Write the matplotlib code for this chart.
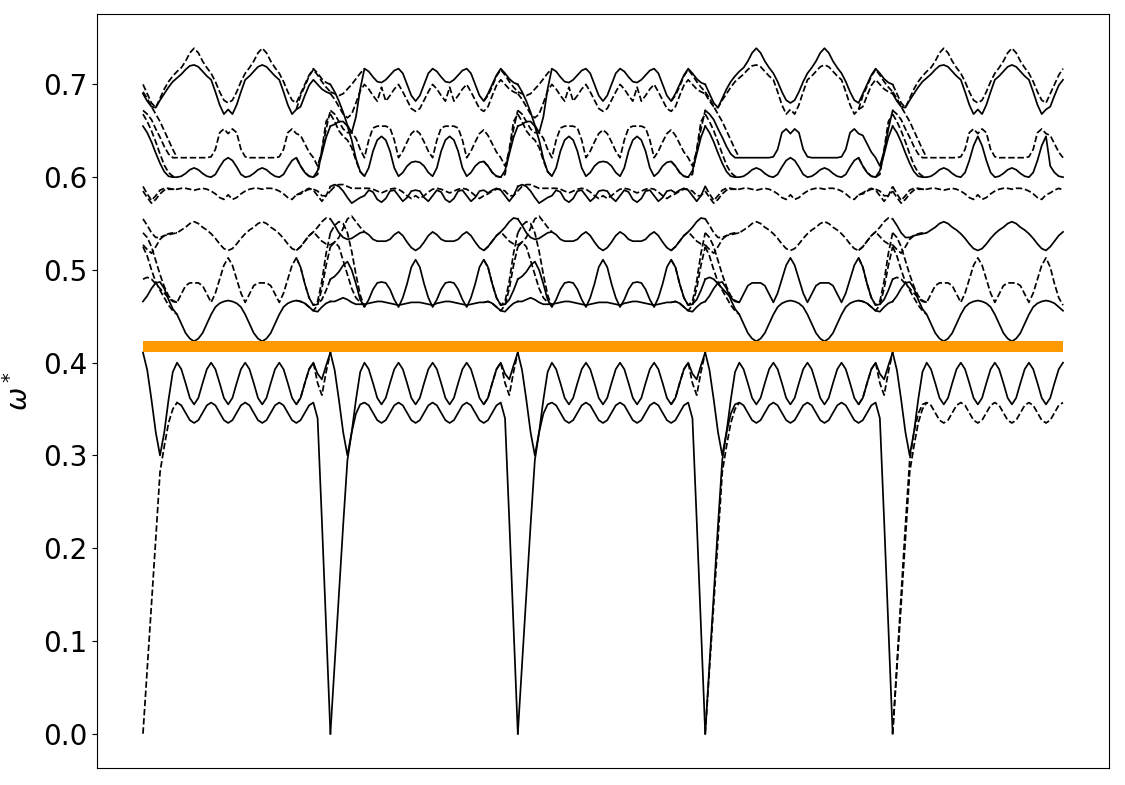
import matplotlib
matplotlib.use("Agg")
import matplotlib.pyplot as plt
import numpy as np

STEPS = 44       # grid steps between two Gamma points
LAST_STEP = 40   # the last segment stops before the next Gamma point

# band values
# heads: steps 0-7 after a Gamma point, bodies: steps 8-36, tails: steps 37-44

# --- lower two bands (same in every segment) ---
W40 = [0.400, 0.393, 0.378, 0.362, 0.355, 0.362, 0.378, 0.393,
       0.400, 0.393, 0.378, 0.362, 0.355, 0.362, 0.378, 0.393,
       0.400, 0.393, 0.378, 0.362, 0.355, 0.362, 0.378, 0.393,
       0.400, 0.393, 0.378, 0.362, 0.355]
W35 = [0.357, 0.354, 0.346, 0.338, 0.335, 0.338, 0.346, 0.354,
       0.357, 0.354, 0.346, 0.338, 0.335, 0.338, 0.346, 0.354,
       0.357, 0.354, 0.346, 0.338, 0.335, 0.338, 0.346, 0.354,
       0.357, 0.354, 0.346, 0.338, 0.335]
hW40 = [0.411, 0.392, 0.360, 0.325, 0.300, 0.325, 0.360, 0.390]
hW35 = [0.000, 0.075, 0.150, 0.225, 0.295, 0.325, 0.345, 0.355]
hW35d = [0.000, 0.070, 0.140, 0.210, 0.282, 0.310, 0.335, 0.350]
tW40 = [0.362, 0.378, 0.393, 0.400, 0.388, 0.382, 0.397, 0.411]
tW40d = [0.362, 0.378, 0.393, 0.400, 0.378, 0.365, 0.390, 0.411]
tW35 = [0.338, 0.346, 0.354, 0.357, 0.340, 0.230, 0.115, 0.000]

# --- segment type A bodies ---
A_top_hi = [0.714, 0.718, 0.725, 0.734, 0.739, 0.734, 0.725, 0.718,
            0.712, 0.703, 0.692, 0.683, 0.680, 0.683, 0.692, 0.703,
            0.712, 0.718, 0.725, 0.734, 0.739, 0.734, 0.725, 0.718,
            0.712, 0.703, 0.692, 0.683, 0.680]
A_top_lo = [0.707, 0.711, 0.716, 0.720, 0.721, 0.719, 0.714, 0.709,
            0.705, 0.692, 0.678, 0.668, 0.673, 0.668, 0.678, 0.692,
            0.705, 0.709, 0.714, 0.719, 0.721, 0.719, 0.714, 0.709,
            0.705, 0.692, 0.678, 0.668, 0.673]
A_bump = [0.621, 0.621, 0.621, 0.621, 0.621, 0.621, 0.621, 0.621,
          0.622, 0.630, 0.648, 0.652, 0.647, 0.652, 0.648, 0.630,
          0.622, 0.621, 0.621, 0.621, 0.621, 0.621, 0.621, 0.621,
          0.622, 0.630, 0.648, 0.652, 0.647]
A_base = [0.600, 0.601, 0.604, 0.608, 0.610, 0.608, 0.604, 0.601,
          0.600, 0.603, 0.611, 0.618, 0.621, 0.618, 0.611, 0.603,
          0.600, 0.601, 0.604, 0.608, 0.610, 0.608, 0.604, 0.601,
          0.600, 0.603, 0.611, 0.618, 0.621]
A_base_hi = [0.600, 0.601, 0.604, 0.608, 0.610, 0.608, 0.604, 0.601,
             0.600, 0.605, 0.618, 0.634, 0.644, 0.634, 0.618, 0.605,
             0.600, 0.601, 0.604, 0.608, 0.610, 0.608, 0.604, 0.601,
             0.600, 0.605, 0.618, 0.634, 0.644]
A_wig = [0.587, 0.588, 0.588, 0.587, 0.586, 0.587, 0.588, 0.587,
         0.585, 0.582, 0.578, 0.576, 0.581, 0.576, 0.578, 0.582,
         0.585, 0.587, 0.588, 0.588, 0.587, 0.588, 0.588, 0.587,
         0.585, 0.582, 0.578, 0.576, 0.581]
A_545 = [0.540, 0.543, 0.546, 0.550, 0.552, 0.550, 0.546, 0.543,
         0.539, 0.534, 0.528, 0.523, 0.521, 0.523, 0.528, 0.534,
         0.539, 0.543, 0.546, 0.550, 0.552, 0.550, 0.546, 0.543,
         0.539, 0.534, 0.528, 0.523, 0.521]
A_51 = [0.465, 0.474, 0.483, 0.486, 0.486, 0.486, 0.483, 0.474,
        0.465, 0.475, 0.490, 0.505, 0.513, 0.505, 0.490, 0.475,
        0.465, 0.474, 0.483, 0.486, 0.486, 0.486, 0.483, 0.474,
        0.465, 0.475, 0.490, 0.505, 0.513]
A_arch = [0.452, 0.442, 0.432, 0.426, 0.423, 0.426, 0.432, 0.442,
          0.452, 0.460, 0.464, 0.466, 0.467, 0.466, 0.464, 0.460,
          0.452, 0.442, 0.432, 0.426, 0.423, 0.426, 0.432, 0.442,
          0.452, 0.460, 0.464, 0.466, 0.467]

# --- segment type B bodies ---
B_top = [0.717, 0.714, 0.708, 0.703, 0.702, 0.705, 0.710, 0.715,
         0.717, 0.712, 0.700, 0.688, 0.682, 0.688, 0.700, 0.712,
         0.717, 0.714, 0.708, 0.703, 0.702, 0.705, 0.710, 0.715,
         0.717, 0.712, 0.700, 0.688, 0.682]
B_2 = [0.700, 0.695, 0.688, 0.682, 0.697, 0.682, 0.688, 0.695,
       0.700, 0.692, 0.683, 0.674, 0.671, 0.674, 0.683, 0.692,
       0.700, 0.695, 0.688, 0.682, 0.697, 0.682, 0.688, 0.695,
       0.700, 0.692, 0.683, 0.674, 0.671]
B_3 = [0.621, 0.640, 0.653, 0.655, 0.655, 0.655, 0.653, 0.640,
       0.621, 0.628, 0.638, 0.647, 0.651, 0.647, 0.638, 0.628,
       0.621, 0.640, 0.653, 0.655, 0.655, 0.655, 0.653, 0.640,
       0.621, 0.628, 0.638, 0.647, 0.651]
B_4 = [0.601, 0.610, 0.628, 0.640, 0.644, 0.640, 0.628, 0.610,
       0.601, 0.605, 0.612, 0.616, 0.617, 0.616, 0.612, 0.605,
       0.601, 0.610, 0.628, 0.640, 0.644, 0.640, 0.628, 0.610,
       0.601, 0.605, 0.612, 0.616, 0.617]
B_5a = [0.580, 0.586, 0.584, 0.576, 0.573, 0.577, 0.585, 0.586,
        0.580, 0.574, 0.578, 0.585, 0.586, 0.585, 0.578, 0.574,
        0.580, 0.586, 0.584, 0.576, 0.573, 0.577, 0.585, 0.586,
        0.580, 0.574, 0.578, 0.585, 0.586]
B_5b = [0.588, 0.588, 0.587, 0.585, 0.583, 0.585, 0.587, 0.588,
        0.587, 0.584, 0.580, 0.577, 0.580, 0.577, 0.580, 0.584,
        0.587, 0.588, 0.587, 0.585, 0.583, 0.585, 0.587, 0.588,
        0.587, 0.584, 0.580, 0.577, 0.580]
B_6 = [0.541, 0.538, 0.533, 0.531, 0.531, 0.531, 0.533, 0.538,
       0.541, 0.537, 0.530, 0.524, 0.521, 0.524, 0.530, 0.537,
       0.541, 0.538, 0.533, 0.531, 0.531, 0.531, 0.533, 0.538,
       0.541, 0.537, 0.530, 0.524, 0.521]
B_7 = [0.460, 0.468, 0.479, 0.486, 0.487, 0.486, 0.479, 0.468,
       0.460, 0.470, 0.485, 0.503, 0.511, 0.503, 0.485, 0.470,
       0.460, 0.468, 0.479, 0.486, 0.487, 0.486, 0.479, 0.468,
       0.460, 0.470, 0.485, 0.503, 0.511]
B_8 = [0.463, 0.464, 0.465, 0.466, 0.466, 0.465, 0.464, 0.463,
       0.462, 0.463, 0.464, 0.465, 0.465, 0.465, 0.464, 0.463,
       0.462, 0.464, 0.465, 0.466, 0.466, 0.465, 0.464, 0.463,
       0.462, 0.463, 0.464, 0.465, 0.465]

# --- tails, shared by both segment types (approach to the next Gamma) ---
t10 = [0.690, 0.700, 0.710, 0.717, 0.712, 0.706, 0.702, 0.700]
t10d = [0.688, 0.698, 0.709, 0.716, 0.710, 0.703, 0.697, 0.692]
t9 = [0.676, 0.688, 0.699, 0.705, 0.700, 0.695, 0.692, 0.690]
t8 = [0.645, 0.636, 0.627, 0.621, 0.612, 0.628, 0.652, 0.672]
t7 = [0.612, 0.605, 0.601, 0.600, 0.607, 0.625, 0.643, 0.655]
t7d = [0.612, 0.605, 0.601, 0.600, 0.603, 0.630, 0.660, 0.668]
t6 = [0.583, 0.586, 0.588, 0.586, 0.580, 0.574, 0.580, 0.590]
t5 = [0.582, 0.585, 0.587, 0.587, 0.585, 0.580, 0.580, 0.585]
t4 = [0.525, 0.531, 0.537, 0.541, 0.546, 0.552, 0.556, 0.555]
t4d = [0.525, 0.531, 0.537, 0.541, 0.536, 0.531, 0.528, 0.527]
t3 = [0.503, 0.485, 0.470, 0.462, 0.463, 0.468, 0.478, 0.490]
t3d = [0.503, 0.485, 0.470, 0.462, 0.466, 0.488, 0.518, 0.540]
t2 = [0.466, 0.464, 0.460, 0.456, 0.455, 0.460, 0.464, 0.466]
t2d = [0.466, 0.464, 0.460, 0.456, 0.462, 0.480, 0.505, 0.525]

# --- heads after a Gamma point, type A ---
hA10 = [0.700, 0.690, 0.680, 0.675, 0.685, 0.695, 0.703, 0.709]
hA10d = [0.692, 0.685, 0.676, 0.668, 0.660, 0.650, 0.640, 0.630]
hA9 = [0.690, 0.682, 0.676, 0.675, 0.683, 0.690, 0.697, 0.703]
hA8 = [0.672, 0.668, 0.662, 0.652, 0.643, 0.633, 0.625, 0.621]
hA7 = [0.655, 0.648, 0.638, 0.626, 0.615, 0.606, 0.601, 0.600]
hA7d = [0.668, 0.660, 0.650, 0.638, 0.625, 0.613, 0.605, 0.601]
hA6 = [0.590, 0.582, 0.575, 0.580, 0.586, 0.588, 0.588, 0.587]
hA5 = [0.585, 0.578, 0.572, 0.576, 0.582, 0.586, 0.587, 0.587]
hA4 = [0.555, 0.548, 0.540, 0.535, 0.535, 0.537, 0.538, 0.539]
hA4d = [0.527, 0.522, 0.518, 0.525, 0.533, 0.537, 0.539, 0.540]
hA3 = [0.490, 0.492, 0.490, 0.485, 0.480, 0.475, 0.470, 0.466]
hA3d = [0.540, 0.535, 0.525, 0.510, 0.495, 0.482, 0.472, 0.467]
hA2 = [0.466, 0.472, 0.480, 0.486, 0.487, 0.480, 0.468, 0.458]
hA2d = [0.525, 0.515, 0.500, 0.487, 0.478, 0.470, 0.462, 0.456]

# --- heads after a Gamma point, type B ---
hB10 = [0.700, 0.692, 0.682, 0.670, 0.656, 0.648, 0.665, 0.695]
hB10d = [0.692, 0.690, 0.688, 0.690, 0.695, 0.700, 0.706, 0.712]
hB9 = [0.690, 0.684, 0.676, 0.668, 0.664, 0.668, 0.680, 0.693]
hB8 = [0.672, 0.668, 0.660, 0.652, 0.648, 0.648, 0.642, 0.630]
hB7 = [0.655, 0.657, 0.660, 0.660, 0.655, 0.640, 0.620, 0.606]
hB7d = [0.668, 0.660, 0.650, 0.644, 0.640, 0.632, 0.618, 0.606]
hB6 = [0.590, 0.592, 0.590, 0.585, 0.578, 0.572, 0.575, 0.578]
hB5 = [0.585, 0.590, 0.592, 0.592, 0.590, 0.588, 0.588, 0.588]
hB4 = [0.555, 0.548, 0.540, 0.535, 0.533, 0.534, 0.537, 0.540]
hB4d = [0.527, 0.530, 0.535, 0.545, 0.555, 0.558, 0.552, 0.546]
hB3 = [0.490, 0.493, 0.498, 0.505, 0.509, 0.500, 0.485, 0.468]
hB3d = [0.540, 0.548, 0.552, 0.550, 0.540, 0.520, 0.495, 0.473]
hB2 = [0.466, 0.466, 0.468, 0.470, 0.468, 0.465, 0.463, 0.463]
hB2d = [0.525, 0.530, 0.525, 0.510, 0.495, 0.480, 0.470, 0.465]

gap_band = [0.4115, 0.4235]   # orange band gap

# (head, body, tail, style) for every segment
main_seg1 = [(hA10, A_top_hi, t10, "--"), (hA9, A_top_lo, t9, "-"),
             (hA8, A_bump, t8, "--"), (hA7, A_base, t7, "-"),
             (hA6, A_wig, t6, "--"), (hA4, A_545, t4, "--"),
             (hA3, A_51, t3, "--"), (hA2, A_arch, t2, "-"),
             (hW40, W40, tW40, "-"), (None, W35, tW35, "-")]
main_B = [(hB10, B_top, t10, "-"), (hB9, B_2, t9, "--"),
          (hB8, B_3, t8, "--"), (hB7, B_4, t7, "-"),
          (hB6, B_5a, t6, "-"), (hB5, B_5b, t5, "--"),
          (hB4, B_6, t4, "-"), (hB3, B_7, t3, "-"),
          (hB2, B_8, t2, "-"), (hW40, W40, tW40, "-"),
          (hW35, W35, tW35, "-")]
main_seg4 = [(hA10, A_top_hi, t10, "-"), (hA9, A_top_lo, t9, "--"),
             (hA8, A_bump, t8, "-"), (hA7, A_base, t7, "-"),
             (hA6, A_wig, t6, "--"), (hA4, A_545, t4, "--"),
             (hA3, A_51, t3, "-"), (hA2, A_arch, t2, "-"),
             (hW40, W40, tW40, "-"), (hW35, W35, tW35, "-")]
main_seg5 = [(hA10, A_top_hi, t10, "--"), (hA9, A_top_lo, t9, "-"),
             (hA8, A_bump, t8, "--"), (hA7, A_base_hi, t7, "-"),
             (hA6, A_wig, t6, "--"), (hA4, A_545, t4, "-"),
             (hA3, A_51, t3, "--"), (hA2, A_arch, t2, "-"),
             (hW40, W40, tW40, "-"), (hW35, W35, tW35, "--")]

# dashed pieces that only show near the Gamma points
heads_A = [(hA10d, A_bump), (hA7d, A_base), (hA5, A_wig), (hA4d, A_545),
           (hA3d, A_51), (hA2d, A_arch), (hW35d, W35)]
heads_B = [(hB10d, B_top), (hB7d, B_4), (hB4d, B_6), (hB3d, B_7), (hB2d, B_8)]
tails_A = [(A_top_lo, t10d), (A_base, t7d), (A_wig, t5), (A_545, t4d),
           (A_51, t3d), (A_arch, t2d), (W40, tW40d)]
tails_B = [(B_top, t10d), (B_4, t7d), (B_6, t4d), (B_7, t3d),
           (B_8, t2d), (W40, tW40d)]

segments = [(main_seg1, heads_A, tails_A), (main_B, heads_B, tails_B),
            (main_B, heads_B, tails_B), (main_seg4, heads_A, tails_A),
            (main_seg5, heads_A, [])]

fig = plt.figure(figsize=(11.25, 7.85), dpi=100)
ax = fig.add_axes([0.0862, 0.0217, 0.8996, 0.9605])


def draw(seg, ys, i0, style):
    x = seg + np.arange(i0, i0 + len(ys)) / STEPS
    ax.plot(x, ys, style, color="black", lw=1.25)


for s, (mains, vheads, vtails) in enumerate(segments):
    last = LAST_STEP if s == len(segments) - 1 else STEPS
    for head, body, tail, style in mains:
        ys = list(body) + list(tail)
        i0 = 8
        if head is not None:
            ys = list(head) + ys
            i0 = 0
        draw(s, ys[:last - i0 + 1], i0, style)
    for head, body in vheads:
        draw(s, list(head) + [body[0]], 0, "--")
    for body, tail in vtails:
        draw(s, [body[-1]] + list(tail), 36, "--")

x_end = len(segments) - 1 + LAST_STEP / STEPS
ax.fill_between([0, x_end], gap_band[0], gap_band[1], color="#ff9900", lw=0, zorder=3)

ax.set_xticks([])
ax.tick_params(axis="y", labelsize=20)
ax.set_ylabel(r"$\omega^*$", fontsize=20)
ax.yaxis.set_label_coords(-0.062, 0.5)

fig.savefig("out.png", dpi=100)
